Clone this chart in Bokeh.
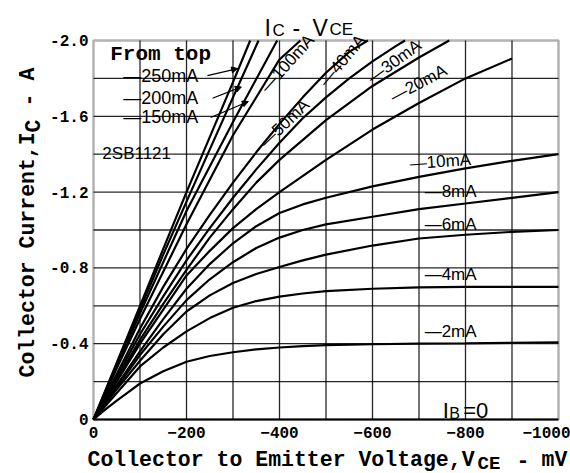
import math
from bokeh.plotting import figure
from bokeh.models import (Range1d, FixedTicker, Label, Arrow, NormalHead, LinearAxis,
                          BoxAnnotation)
from bokeh.embed import file_html
from bokeh.resources import INLINE

# ---------------- data (VCE in mV, IC in A) ----------------
vce = [0, -25, -50, -75, -100, -150, -200, -250, -300, -350, -400, -450, -500,
       -600, -700, -800, -900, -1000]
ic_0mA = [0] * 18
ic_2mA = [0, -0.052, -0.10, -0.145, -0.19, -0.255, -0.305, -0.335, -0.355, -0.37, -0.38,
          -0.387, -0.392, -0.397, -0.40, -0.402, -0.405, -0.407]
ic_4mA = [0, -0.07, -0.14, -0.21, -0.28, -0.38, -0.465, -0.535, -0.59, -0.625, -0.648,
          -0.665, -0.677, -0.69, -0.697, -0.70, -0.70, -0.70]
ic_6mA = [0, -0.08, -0.16, -0.235, -0.31, -0.45, -0.57, -0.655, -0.72, -0.768, -0.805,
          -0.84, -0.87, -0.918, -0.955, -0.975, -0.99, -1.0]
ic_8mA = [0, -0.085, -0.17, -0.255, -0.34, -0.49, -0.63, -0.74, -0.83, -0.905, -0.96,
          -1.0, -1.03, -1.07, -1.11, -1.14, -1.17, -1.20]
ic_10mA = [0, -0.09, -0.18, -0.27, -0.36, -0.53, -0.69, -0.82, -0.93, -1.02, -1.09,
           -1.135, -1.17, -1.23, -1.28, -1.325, -1.365, -1.40]
vce_20mA = [0, -50, -100, -150, -200, -250, -300, -350, -400, -500, -600, -700, -800, -900]
ic_20mA = [0, -0.20, -0.40, -0.58, -0.76, -0.89, -1.01, -1.11, -1.20, -1.37, -1.53, -1.67,
           -1.80, -1.905]
vce_30mA = [0, -50, -100, -150, -200, -250, -300, -350, -400, -500, -600, -700, -765]
ic_30mA = [0, -0.21, -0.42, -0.61, -0.79, -0.96, -1.11, -1.25, -1.37, -1.58, -1.76, -1.91, -2.0]
vce_40mA = [0, -50, -100, -150, -200, -250, -300, -350, -400, -450, -500, -550, -600, -650, -670]
ic_40mA = [0, -0.225, -0.45, -0.65, -0.84, -1.01, -1.17, -1.32, -1.46, -1.59, -1.70, -1.80,
           -1.89, -1.97, -2.0]
vce_50mA = [0, -50, -100, -150, -200, -250, -300, -350, -400, -450, -500, -550, -590]
ic_50mA = [0, -0.24, -0.48, -0.70, -0.90, -1.08, -1.25, -1.41, -1.56, -1.70, -1.83, -1.94, -2.0]
vce_100mA = [0, -50, -100, -150, -200, -300, -400, -445]
ic_100mA = [0, -0.27, -0.53, -0.78, -1.03, -1.50, -1.90, -2.0]
vce_150mA = [0, -50, -100, -150, -200, -300, -395]
ic_150mA = [0, -0.28, -0.56, -0.83, -1.10, -1.57, -2.0]
vce_200mA = [0, -50, -100, -150, -200, -300, -355]
ic_200mA = [0, -0.29, -0.58, -0.87, -1.15, -1.70, -2.0]
vce_250mA = [0, -50, -100, -150, -200, -300, -337]
ic_250mA = [0, -0.30, -0.60, -0.90, -1.20, -1.78, -2.0]

x_lim = [0, -1000]
y_lim = [0, -2.0]
x_ticks = [0, -200, -400, -600, -800, -1000]
y_ticks = [0, -0.4, -0.8, -1.2, -1.6, -2.0]
y_tick_labels = ["0", "-0.4", "-0.8", "-1.2", "-1.6", "-2.0"]
x_grid = [-100, -200, -300, -400, -500, -600, -700, -800, -900]
y_grid = [-0.2, -0.4, -0.6, -0.8, -1.0, -1.2, -1.4, -1.6, -1.8]

curves = [
    (vce, ic_0mA), (vce, ic_2mA), (vce, ic_4mA), (vce, ic_6mA), (vce, ic_8mA),
    (vce, ic_10mA), (vce_20mA, ic_20mA), (vce_30mA, ic_30mA), (vce_40mA, ic_40mA),
    (vce_50mA, ic_50mA), (vce_100mA, ic_100mA), (vce_150mA, ic_150mA),
    (vce_200mA, ic_200mA), (vce_250mA, ic_250mA),
]

# curve labels: text, x (mV), y (A), angle (deg)
curve_labels = [
    ("\u2014100mA", -417, -1.879, 48),
    ("\u201450mA", -411, -1.562, 44),
    ("\u201440mA", -535, -1.894, 50),
    ("\u201430mA", -647, -1.889, 36),
    ("\u201420mA", -699, -1.773, 28),
    ("\u201410mA", -746, -1.361, 4),
    ("\u20148mA", -768, -1.203, 0),
    ("\u20146mA", -768, -1.029, 0),
    ("\u20144mA", -768, -0.765, 0),
    ("\u20142mA", -768, -0.464, 0),
]
legend_labels = [
    ("\u2014250mA", -64, -1.815),
    ("\u2014200mA", -64, -1.699),
    ("\u2014150mA", -64, -1.594),
]
# leader arrows (from label to curve)
leaders = [
    (-245, -1.815, -310, -1.852),
    (-256, -1.695, -318, -1.755),
    (-252, -1.594, -333, -1.678),
]

MONO = "Liberation Mono"
SANS = "'Liberation Sans Narrow', 'Liberation Sans', sans-serif"
W, H = 570, 473
# plot box on the page: x 93..558 px, y 40..419 px
PX0, PX1, PY0, PY1 = 93, 558, 419, 40
kx = (PX1 - PX0) / (x_lim[1] - x_lim[0])
ky = (PY1 - PY0) / (y_lim[1] - y_lim[0])
xr = Range1d(x_lim[0] + (0 - PX0) / kx, x_lim[0] + (W - PX0) / kx)
yr = Range1d(y_lim[0] + (H - PY0) / ky, y_lim[0] + (0 - PY0) / ky)

p = figure(width=W, height=H, output_backend="svg", toolbar_location=None,
           x_range=xr, y_range=yr, x_axis_location=None, y_axis_location=None,
           min_border=0)
p.background_fill_color = "white"
p.border_fill_color = "white"
p.outline_line_color = None
p.grid.visible = False

# grid
p.segment(x0=x_grid, x1=x_grid, y0=[y_lim[0]] * len(x_grid), y1=[y_lim[1]] * len(x_grid),
          line_color="black", line_width=1.3, line_alpha=0.85)
p.segment(x0=[x_lim[0]] * len(y_grid), x1=[x_lim[1]] * len(y_grid), y0=y_grid, y1=y_grid,
          line_color="black", line_width=1.3, line_alpha=0.85)
p.add_layout(BoxAnnotation(left=x_lim[0], right=x_lim[1], bottom=y_lim[0], top=y_lim[1],
                           fill_alpha=0, line_color="black", line_width=2.5))

xaxis = LinearAxis(fixed_location=y_lim[0], ticker=FixedTicker(ticks=x_ticks))
yaxis = LinearAxis(fixed_location=x_lim[0], ticker=FixedTicker(ticks=y_ticks),
                   major_label_overrides={t: s for t, s in zip(y_ticks, y_tick_labels)})
for ax in (xaxis, yaxis):
    ax.axis_line_color = None
    ax.major_tick_line_color = None
    ax.minor_tick_line_color = None
    ax.major_tick_in = 0
    ax.major_tick_out = 0
    ax.major_label_text_font = MONO
    ax.major_label_text_font_style = "bold"
    ax.major_label_text_font_size = "16px"
    ax.major_label_text_color = "black"
xaxis.major_label_standoff = 7
yaxis.major_label_standoff = 5
p.add_layout(xaxis, "below")
p.add_layout(yaxis, "left")

for xs, ys in curves:
    p.line(xs, ys, line_color="black", line_width=2.2)

for t, x, y, a in curve_labels:
    p.add_layout(Label(x=x, y=y, text=t, angle=a, angle_units="deg",
                       text_align="center", text_baseline="middle",
                       text_font=SANS, text_font_size="17px", text_color="black"))
for t, x, y in legend_labels:
    p.add_layout(Label(x=x, y=y, text=t, text_align="left", text_baseline="middle",
                       text_font=SANS, text_font_size="18px", text_color="black"))
for x0, y0, x1, y1 in leaders:
    p.add_layout(Arrow(x_start=x0, y_start=y0, x_end=x1, y_end=y1, line_width=1.2,
                       line_color="black",
                       end=NormalHead(size=6, fill_color="black", line_color="black")))

p.add_layout(Label(x=-36, y=-1.926, text="From top", text_align="left", text_baseline="middle",
                   text_font=MONO, text_font_style="bold", text_font_size="21px",
                   text_color="black"))
p.add_layout(Label(x=-19, y=-1.404, text="2SB1121", text_align="left", text_baseline="middle",
                   text_font=SANS, text_font_size="17px", text_color="black"))
# I_B = 0
p.add_layout(Label(x=-751, y=-0.047, text="I", text_align="left", text_baseline="alphabetic",
                   text_font=SANS, text_font_size="22px", text_color="black"))
p.add_layout(Label(x=-765, y=-0.030, text="B", text_align="left", text_baseline="alphabetic",
                   text_font=SANS, text_font_size="16px", text_color="black"))
p.add_layout(Label(x=-795, y=-0.047, text="=0", text_align="left", text_baseline="alphabetic",
                   text_font=SANS, text_font_size="22px", text_color="black"))


def slabel(text, px, py, size, font=MONO, style="normal", angle=0):
    # canvas units (top-left origin) = page pixels
    p.add_layout(Label(x=px, y=py, x_units="canvas", y_units="canvas",
                       text=text, text_align="left", text_baseline="alphabetic",
                       text_font=font, text_font_style=style, text_font_size=size,
                       text_color="black", angle=angle, angle_units="rad"))


# title  I_C - V_CE
slabel("I", 264, 27, "23px", font=SANS)
slabel("C", 272, 30, "17px", font=SANS)
slabel("-", 292, 27, "23px", font=SANS)
slabel("V", 312, 27, "23px", font=SANS)
slabel("CE", 329, 29, "17px", font=SANS)

# x axis label
slabel("Collector to Emitter Voltage,V", 87, 459, "21.5px", style="bold")
slabel("CE", 477, 463, "19px", style="bold")
slabel("-", 516, 459, "21.5px", style="bold")
slabel("mV", 541, 459, "21.5px", style="bold")
# y axis label (rotated)
slabel("Collector Current,I", 27, 377, "21.5px", style="bold", angle=math.pi / 2)
slabel("C", 33, 132, "21.5px", style="bold", angle=math.pi / 2)
slabel("-", 27, 106, "21.5px", style="bold", angle=math.pi / 2)
slabel("A", 27, 80, "21.5px", style="bold", angle=math.pi / 2)

open("out.html", "w").write(file_html(p, INLINE))
